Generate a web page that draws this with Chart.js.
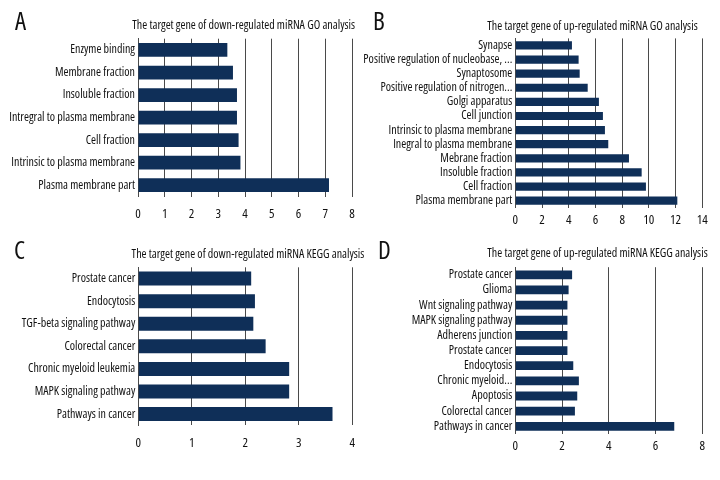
<!DOCTYPE html>
<html>
<head>
<meta charset="utf-8">
<script src="https://cdn.jsdelivr.net/npm/chart.js@4.4.1/dist/chart.umd.min.js"></script>
<style>
  body { margin: 0; background: #fff; }
  #wrap { position: relative; width: 720px; height: 480px; overflow: hidden; }
  .panel { position: absolute; height: 240px; }
  .left { left: 0; width: 380px; }
  .right { left: 360px; width: 360px; }
  .letter { position: absolute; font-family: "Open Sans", sans-serif; font-stretch: condensed; font-size: 25px; color: #111; line-height: 1; }
</style>
</head>
<body>
<div id="wrap">
  <div class="panel left" style="top:0"><canvas id="chartA"></canvas></div>
  <div class="panel left" style="top:240px"><canvas id="chartC"></canvas></div>
  <div class="panel right" style="top:0"><canvas id="chartB"></canvas></div>
  <div class="panel right" style="top:240px"><canvas id="chartD"></canvas></div>
  <div class="letter" style="left:15px;top:8px">A</div>
  <div class="letter" style="left:373px;top:8px">B</div>
  <div class="letter" style="left:14px;top:237px">C</div>
  <div class="letter" style="left:378px;top:237px">D</div>
</div>
<script>
// data for the four panels
const labelsA = ["Enzyme binding", "Membrane fraction", "Insoluble fraction", "Intregral to plasma membrane",
  "Cell fraction", "Intrinsic to plasma membrane", "Plasma membrane part"];
const valuesA = [3.34, 3.55, 3.70, 3.70, 3.76, 3.83, 7.14];

const labelsB = ["Synapse", "Positive regulation of nucleobase, ...", "Synaptosome", "Positive regulation of nitrogen...",
  "Golgi apparatus", "Cell junction", "Intrinsic to plasma membrane", "Inegral to plasma membrane",
  "Mebrane fraction", "Insoluble fraction", "Cell fraction", "Plasma membrane part"];
const valuesB = [4.24, 4.74, 4.82, 5.42, 6.26, 6.56, 6.71, 6.96, 8.51, 9.46, 9.78, 12.13];

const labelsC = ["Prostate cancer", "Endocytosis", "TGF-beta signaling pathway", "Colorectal cancer",
  "Chronic myeloid leukemia", "MAPK signaling pathway", "Pathways in cancer"];
const valuesC = [2.11, 2.18, 2.15, 2.38, 2.82, 2.82, 3.63];

const labelsD = ["Prostate cancer", "Glioma", "Wnt signaling pathway", "MAPK signaling pathway",
  "Adherens junction", "Prostate cancer", "Endocytosis", "Chronic myeloid...", "Apoptosis",
  "Colorectal cancer", "Pathways in cancer"];
const valuesD = [2.43, 2.28, 2.23, 2.23, 2.23, 2.23, 2.48, 2.72, 2.65, 2.55, 6.80];

const titles = [
  "The target gene of down-regulated miRNA GO analysis",
  "The target gene of up-regulated miRNA GO analysis",
  "The target gene of down-regulated miRNA KEGG analysis",
  "The target gene of up-regulated miRNA KEGG analysis",
];

// no narrow family installed, so ask Open Sans for its condensed width
const FONT = "'Open Sans', sans-serif";
const STRETCH = "condensed";
const BAR = "#0f2f58";
const GRID = "#4a4a4a";

// draws the small panel title at a fixed spot
const panelTitle = {
  id: "panelTitle",
  afterDraw(chart, args, opts) {
    const ctx = chart.ctx;
    ctx.save();
    ctx.font = STRETCH + " 12px " + FONT;
    ctx.fillStyle = "#111";
    ctx.textAlign = "center";
    ctx.textBaseline = "middle";
    ctx.fillText(opts.text, opts.x, opts.y);
    ctx.restore();
  },
};

function makeChart(id, labels, values, title, box) {
  const lineH = 13 * 1.2;
  const tickPad = box.tickY - box.bottom - lineH / 2;
  const xHeight = tickPad + lineH;
  new Chart(document.getElementById(id), {
    type: "bar",
    data: {
      labels: labels,
      datasets: [{
        data: values,
        backgroundColor: BAR,
        categoryPercentage: 1,
        barPercentage: box.bar,
      }],
    },
    options: {
      indexAxis: "y",
      responsive: true,
      maintainAspectRatio: false,
      animation: false,
      layout: {
        padding: {
          left: 0,
          top: box.top,
          right: box.width - box.right,
          bottom: 240 - box.bottom - xHeight,
        },
      },
      plugins: {
        legend: { display: false },
        tooltip: { enabled: false },
        panelTitle: { text: title, x: box.titleX, y: box.titleY },
      },
      scales: {
        x: {
          min: 0,
          max: box.max,
          ticks: { stepSize: box.step, padding: tickPad, color: "#111",
            font: { family: FONT, weight: STRETCH, size: 13 } },
          grid: { color: GRID, lineWidth: 1, drawTicks: false },
          border: { display: false },
        },
        y: {
          afterFit: function (scale) { scale.width = box.left; },
          ticks: { padding: 3, color: "#111", autoSkip: false,
            font: { family: FONT, weight: STRETCH, size: 12 } },
          grid: { display: false, drawTicks: false },
          border: { display: true, color: GRID, width: 1 },
        },
      },
    },
    plugins: [panelTitle],
  });
}

makeChart("chartA", labelsA, valuesA, titles[0],
  { width: 380, left: 138, right: 352, top: 38.7, bottom: 206.7, tickY: 224.7, titleX: 243.7, titleY: 26, max: 8, step: 1, bar: 0.61 });
makeChart("chartC", labelsC, valuesC, titles[2],
  { width: 380, left: 138.3, right: 352.3, top: 27.3, bottom: 195.3, tickY: 213, titleX: 248, titleY: 15, max: 4, step: 1, bar: 0.62 });
makeChart("chartB", labelsB, valuesB, titles[1],
  { width: 360, left: 155.3, right: 342.3, top: 38.4, bottom: 212.2, tickY: 224.5, titleX: 232.5, titleY: 27, max: 14, step: 2, bar: 0.58 });
makeChart("chartD", labelsD, valuesD, titles[3],
  { width: 360, left: 155.3, right: 342.3, top: 27.2, bottom: 198.8, tickY: 211.5, titleX: 237.5, titleY: 13.3, max: 8, step: 2, bar: 0.58 });
</script>
</body>
</html>
